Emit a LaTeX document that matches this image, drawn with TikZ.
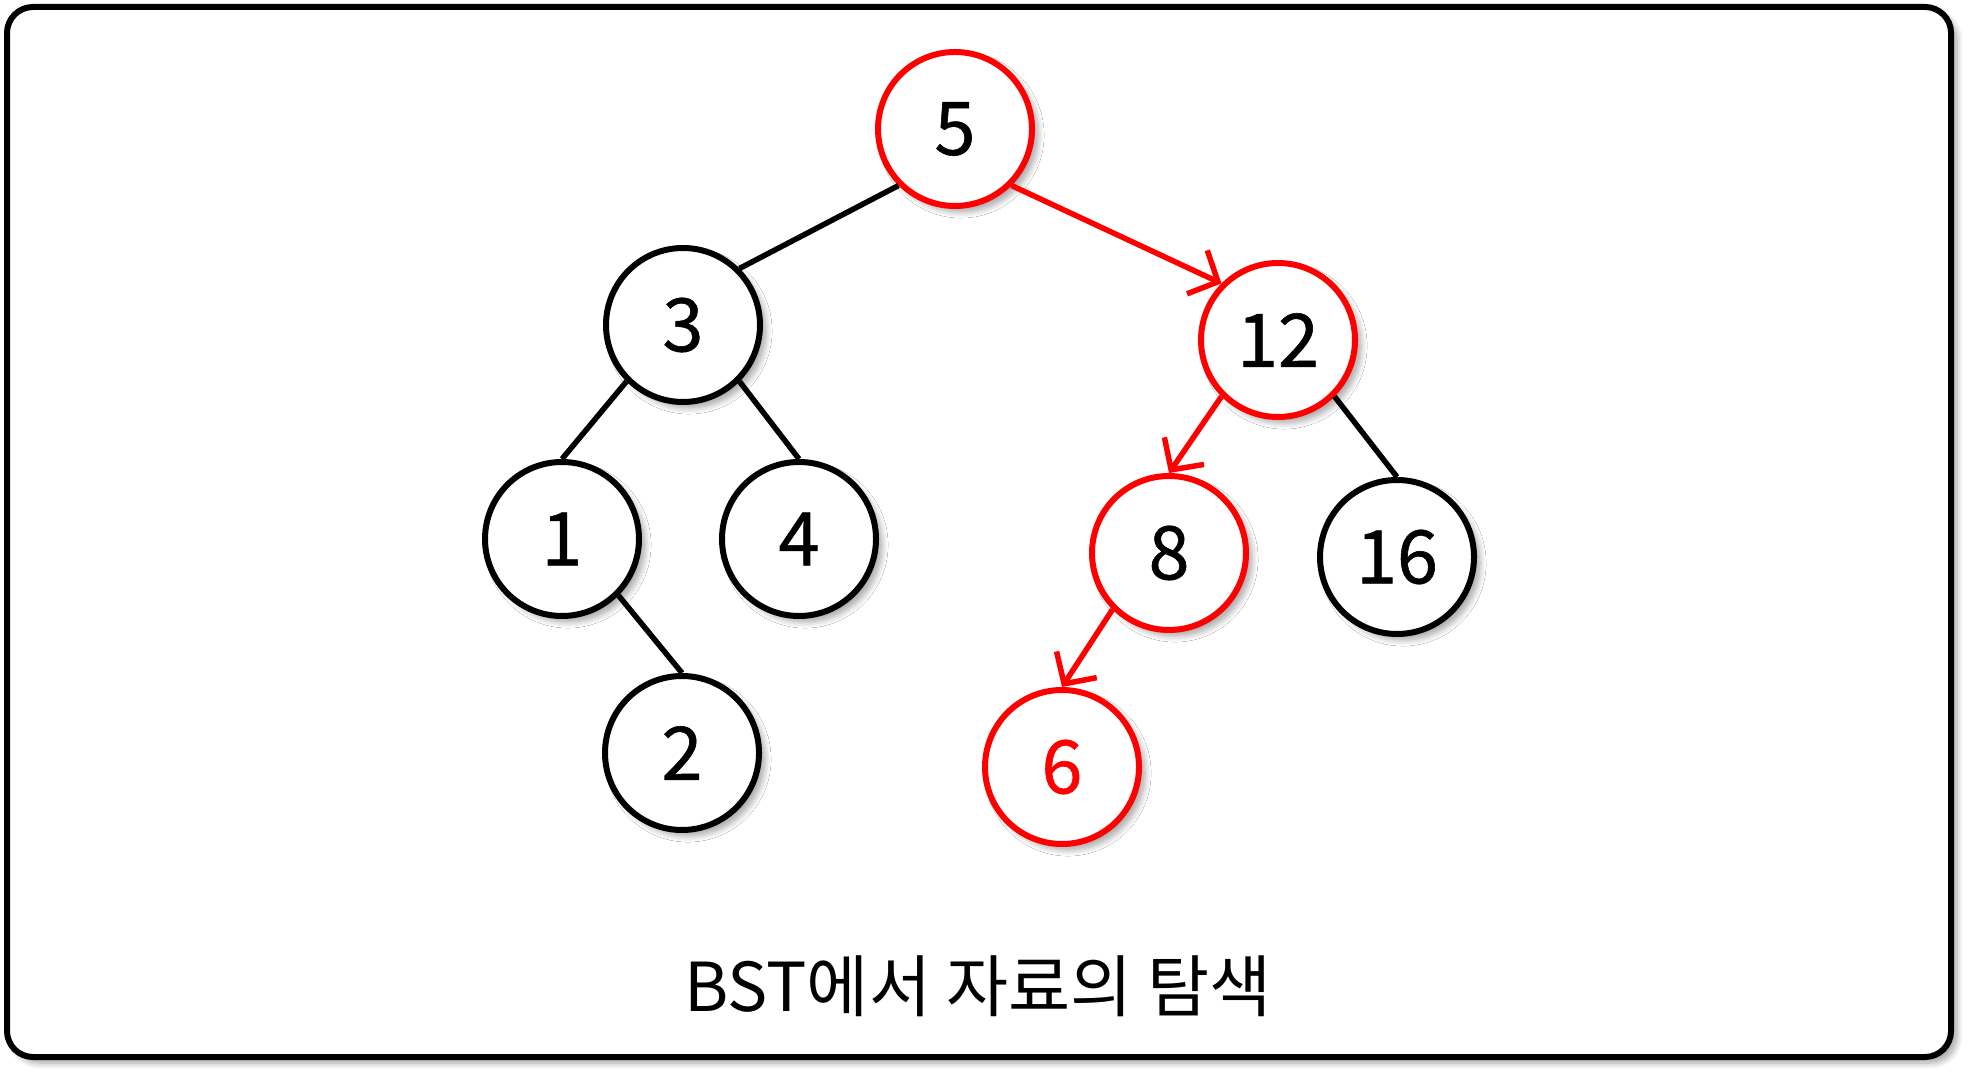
\documentclass[tikz,border=0pt]{standalone}
\usepackage{fontspec}
\newfontfamily\kofont{Noto Sans CJK KR}
\newfontfamily\kodigits[FakeBold=0.8]{Noto Sans CJK KR}
\usetikzlibrary{arrows.meta,shadows.blur}

\tikzset{
  bstnode/.style={circle,draw=black,line width=0.6mm,fill=white,inner sep=0pt,
    minimum size=15.4mm,font=\kodigits\fontsize{21}{25}\selectfont,
    blur shadow={shadow xshift=0.6mm,shadow yshift=-0.6mm,shadow blur steps=8,shadow opacity=35}},
  visited/.style={bstnode,draw=red},
  treeline/.style={line width=0.55mm,black},
  searcharrow/.style={line width=0.55mm,red,-{Straight Barb[length=2.3mm,width=4.8mm]}}
}

\begin{document}
\begin{tikzpicture}[x=0.1mm,y=-0.1mm]
				\useasboundingbox (0,0) rectangle (1968,1074);
				\draw[line width=0.6mm,rounded corners=2.6mm,fill=white,
				  blur shadow={shadow xshift=0.6mm,shadow yshift=-0.6mm,shadow blur steps=8,shadow opacity=35}]
				  (7,7) rectangle (1951,1057);
				
				\path (955,129) node[visited] (n5) {5};
				\path (683,325) node[bstnode] (n3) {3};
				\path (1278,340) node[visited] (n12) {12};
				\path (562,539) node[bstnode] (n1) {1};
				\path (799,539) node[bstnode] (n4) {4};
				\path (1169,553) node[visited] (n8) {8};
				\path (1397,557) node[bstnode] (n16) {16};
				\path (682,753) node[bstnode] (n2) {2};
				\path (1062,767) node[visited,text=red] (n6) {6};
				
				\draw[treeline] (n5.-135) -- (n3.45);
				\draw[treeline] (n3.-135) -- (n1.north);
				\draw[treeline] (n3.-45) -- (n4.north);
				\draw[treeline] (n1.-45) -- (n2.north);
				\draw[treeline] (n12.-45) -- (n16.north);
				\draw[searcharrow] (n5.-45) -- (n12.135);
				\draw[searcharrow] (n12.-135) -- (n8.north);
				\draw[searcharrow] (n8.-135) -- (n6.north);
				
				\path (978,1011) node[anchor=base,font=\kofont\fontsize{19.2}{24}\selectfont] (caption) {BST에서 자료의 탐색};
\end{tikzpicture}
\end{document}
